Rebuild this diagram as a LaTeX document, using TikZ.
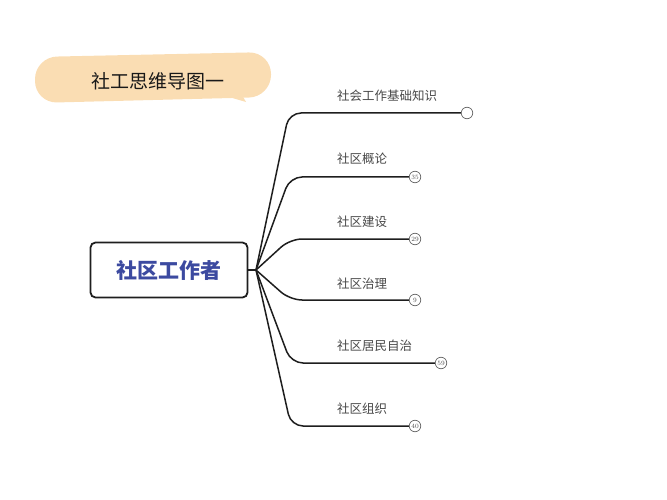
\documentclass[tikz,border=0pt]{standalone}
\usepackage{fontspec}
\newfontfamily\cjk{Noto Sans CJK SC}
\usetikzlibrary{positioning}
\definecolor{peach}{HTML}{FADDB3}
\definecolor{hubblue}{HTML}{3C4AA0}
\definecolor{inkline}{HTML}{1E1E1E}
\tikzset{
  branch/.style={draw=inkline, line width=1.5pt, rounded corners=12pt},
  leaf/.style={font=\cjk\fontsize{12.5}{14}\selectfont, text=black!72, anchor=base west, inner sep=0pt},
  knob/.style={circle, draw=black!60, fill=white, minimum size=11.5pt, inner sep=0pt, line width=0.7pt, font=\fontsize{6.5}{6.5}\selectfont, text=black!70},
}

\begin{document}
\begin{tikzpicture}[x=1pt,y=-1pt]
\useasboundingbox (0,0) rectangle (667,500);
% 标题气泡
\fill[peach, rounded corners=22pt] (35,57) -- (271,52) -- (271,97) -- (35,103) -- cycle;
\fill[peach] (222,95) -- (246,102) -- (238,88) -- cycle;
\node[font=\cjk\fontsize{19}{22}\selectfont, text=black!90] (title) at (158,81) {社工思维导图一};

% 中心主题
\node[draw=inkline, line width=1.8pt, rounded corners=5pt, minimum width=157pt, minimum height=55pt,
      font=\cjk\bfseries\fontsize{21}{24}\selectfont, text=hubblue] (center) at (169,270) {社区工作者};
\coordinate (hub) at (256,270);
\draw[inkline, line width=1.5pt] (center.east) -- (hub);

% 分支末端
\node[knob] (k1) at (467,113) {};
\node[knob] (k2) at (415,177) {35};
\node[knob] (k3) at (415,239) {29};
\node[knob] (k4) at (415,300) {9};
\node[knob] (k5) at (441,363) {59};
\node[knob] (k6) at (415,426) {40};

% 分支连线
\draw[branch] (hub) -- (289,113) -- (k1.west);
\draw[branch] (hub) -- (290,177) -- (k2.west);
\draw[branch] (hub) -- (290,239) -- (k3.west);
\draw[branch] (hub) -- (290,300) -- (k4.west);
\draw[branch] (hub) -- (291,363) -- (k5.west);
\draw[branch] (hub) -- (291,426) -- (k6.west);

% 分支标签
\node[leaf] (t1) at (337,101) {社会工作基础知识};
\node[leaf] (t2) at (337,164) {社区概论};
\node[leaf] (t3) at (337,226) {社区建设};
\node[leaf] (t4) at (337,288) {社区治理};
\node[leaf] (t5) at (337,350) {社区居民自治};
\node[leaf] (t6) at (337,413) {社区组织};
\end{tikzpicture}
\end{document}
